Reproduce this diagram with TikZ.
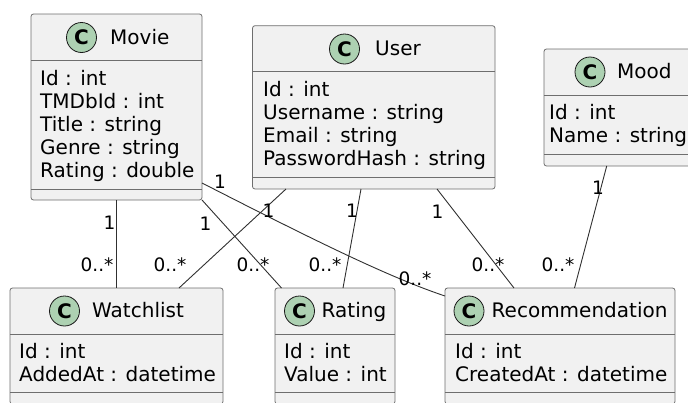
\documentclass[tikz,border=0pt]{standalone}
\usepackage{fontspec}
\setmainfont{DejaVu Sans}
\definecolor{boxfill}{HTML}{F1F1F1}
\definecolor{boxline}{HTML}{6E6E6E}
\definecolor{linkcol}{HTML}{303030}
\definecolor{iconfill}{HTML}{ADD1B2}
\definecolor{iconline}{HTML}{181818}
\begin{document}
\begin{tikzpicture}[x=1pt,y=-1pt,
  cbox/.style={draw=boxline, fill=boxfill, rounded corners=2.5pt, line width=0.8pt, anchor=north west, inner sep=0pt, outer sep=0pt},
  divline/.style={draw=boxline, line width=0.8pt},
  cicon/.style={circle, draw=iconline, fill=iconfill, line width=0.8pt, minimum size=30pt, inner sep=0pt, font=\bfseries\fontsize{20}{20}\selectfont},
  cname/.style={anchor=base west, inner sep=0pt, font=\fontsize{20}{24}\selectfont},
  attr/.style={anchor=base west, inner sep=0pt, font=\fontsize{20}{24}\selectfont},
  link/.style={draw=linkcol, line width=0.9pt},
  mult/.style={inner sep=0pt, font=\fontsize{18.5}{20}\selectfont}]
\useasboundingbox (0,0) rectangle (688,402);
\clip (0,0) rectangle (688,402);

% ---------- Movie ----------
\node[cbox, minimum width=171pt, minimum height=186pt] (movie) at (31,14) {};
\draw[divline] ([yshift=-46pt]movie.north west) -- ([yshift=-46pt]movie.north east);
\draw[divline] ([yshift=11pt]movie.south west) -- ([yshift=11pt]movie.south east);
\node[cicon] (movieC) at (81.5,37.5) {C};
\node[cname] (movieN) at (110,44) {Movie};
\node[attr] (movieA1) at (40,85) {Id : int};
\node[attr] (movieA2) at (40,108.2) {TMDbId : int};
\node[attr] (movieA3) at (40,131.4) {Title : string};
\node[attr] (movieA4) at (40,154.6) {Genre : string};
\node[attr] (movieA5) at (40,177.8) {Rating : double};

% ---------- User ----------
\node[cbox, minimum width=242.5pt, minimum height=163.3pt] (user) at (252.5,25.7) {};
\draw[divline] ([yshift=-46pt]user.north west) -- ([yshift=-46pt]user.north east);
\draw[divline] ([yshift=11.5pt]user.south west) -- ([yshift=11.5pt]user.south east);
\node[cicon] (userC) at (344.5,49) {C};
\node[cname] (userN) at (375,55.5) {User};
\node[attr] (userA1) at (263,96) {Id : int};
\node[attr] (userA2) at (263,119.2) {Username : string};
\node[attr] (userA3) at (263,142.4) {Email : string};
\node[attr] (userA4) at (263,165.6) {PasswordHash : string};

% ---------- Mood ----------
\node[cbox, minimum width=154pt, minimum height=117pt] (mood) at (544,49) {};
\draw[divline] ([yshift=-46pt]mood.north west) -- ([yshift=-46pt]mood.north east);
\draw[divline] ([yshift=11.5pt]mood.south west) -- ([yshift=11.5pt]mood.south east);
\node[cicon] (moodC) at (590,72) {C};
\node[cname] (moodN) at (617,78.5) {Mood};
\node[attr] (moodA1) at (549,119) {Id : int};
\node[attr] (moodA2) at (549,142.2) {Name : string};

% ---------- Watchlist ----------
\node[cbox, minimum width=213pt, minimum height=116pt] (watch) at (10,288) {};
\draw[divline] ([yshift=-46pt]watch.north west) -- ([yshift=-46pt]watch.north east);
\draw[divline] ([yshift=-104.5pt]watch.north west) -- ([yshift=-104.5pt]watch.north east);
\node[cicon] (watchC) at (64.5,311) {C};
\node[cname] (watchN) at (92,317.5) {Watchlist};
\node[attr] (watchA1) at (19,358) {Id : int};
\node[attr] (watchA2) at (19,381.3) {AddedAt : datetime};

% ---------- Rating ----------
\node[cbox, minimum width=120pt, minimum height=116pt] (rating) at (275,288) {};
\draw[divline] ([yshift=-46pt]rating.north west) -- ([yshift=-46pt]rating.north east);
\draw[divline] ([yshift=-104.5pt]rating.north west) -- ([yshift=-104.5pt]rating.north east);
\node[cicon] (ratingC) at (299.5,311) {C};
\node[cname] (ratingN) at (321.5,317.5) {Rating};
\node[attr] (ratingA1) at (284,358) {Id : int};
\node[attr] (ratingA2) at (284,381.3) {Value : int};

% ---------- Recommendation ----------
\node[cbox, minimum width=230pt, minimum height=116pt] (rec) at (445,288) {};
\draw[divline] ([yshift=-46pt]rec.north west) -- ([yshift=-46pt]rec.north east);
\draw[divline] ([yshift=-104.5pt]rec.north west) -- ([yshift=-104.5pt]rec.north east);
\node[cicon] (recC) at (469,311) {C};
\node[cname] (recN) at (491.5,317.5) {Recommendation};
\node[attr] (recA1) at (455,358) {Id : int};
\node[attr] (recA2) at (455,381.3) {CreatedAt : datetime};

% ---------- Connectors ----------
\draw[link] ([xshift=85.7pt]movie.south west) -- ([xshift=106.7pt]watch.north west);
\draw[link] ([xshift=33.5pt]user.south west) -- ([xshift=169pt]watch.north west);
\draw[link] (movie.south east) -- ([xshift=6.5pt]rating.north west);
\draw[link] ([yshift=-169pt]movie.north east) .. controls (300,233) and (385,276) .. ([yshift=-8pt]rec.north west);
\draw[link] ([xshift=108.5pt]user.south west) -- ([xshift=68pt]rating.north west);
\draw[link] ([xshift=184.5pt]user.south west) -- ([xshift=69pt]rec.north west);
\draw[link] ([xshift=62.7pt]mood.south west) -- ([xshift=129.5pt]rec.north west);

% ---------- Multiplicities ----------
\node[mult] (m1a) at (109.5,223) {1};
\node[mult] (m1b) at (97,264.5) {0..*};
\node[mult] (m2a) at (268.5,211) {1};
\node[mult] (m2b) at (170,264.5) {0..*};
\node[mult] (m3a) at (205.5,224) {1};
\node[mult] (m3b) at (253,264.5) {0..*};
\node[mult] (m4a) at (220,182) {1};
\node[mult] (m4b) at (415,279) {0..*};
\node[mult] (m5a) at (352,211) {1};
\node[mult] (m5b) at (325,264.5) {0..*};
\node[mult] (m6a) at (437.5,212) {1};
\node[mult] (m6b) at (488,264.5) {0..*};
\node[mult] (m7a) at (598,188) {1};
\node[mult] (m7b) at (558,265) {0..*};
\end{tikzpicture}
\end{document}
